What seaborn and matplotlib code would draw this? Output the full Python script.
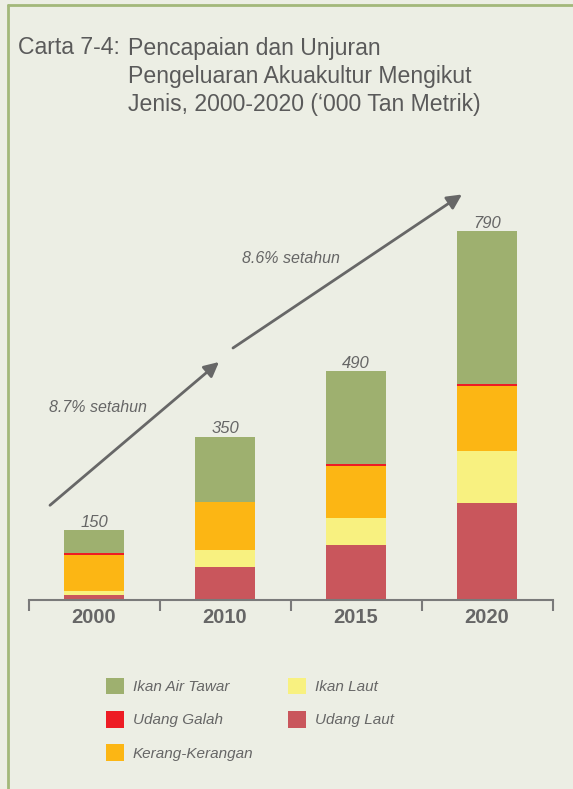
import numpy as np
import pandas as pd
import matplotlib
matplotlib.use("Agg")
import matplotlib.pyplot as plt
from matplotlib.patches import Patch
from matplotlib.lines import Line2D
import seaborn as sns

# ---- data ----
years = ["2000", "2010", "2015", "2020"]
udang_laut = [11, 70, 118, 208]
ikan_laut = [9, 38, 58, 111]
kerang = [77, 102, 111, 139]
udang_galah = [4, 0, 5, 5]
ikan_air_tawar = [49, 140, 198, 327]
totals = [150, 350, 490, 790]
growth_labels = ["8.7% setahun", "8.6% setahun"]

series_names = ["Udang Laut", "Ikan Laut", "Kerang-Kerangan", "Udang Galah", "Ikan Air Tawar"]
series_vals = [udang_laut, ikan_laut, kerang, udang_galah, ikan_air_tawar]
colors = {
    "Ikan Air Tawar": "#9EB06F",
    "Udang Galah": "#ED1C24",
    "Kerang-Kerangan": "#FCB614",
    "Ikan Laut": "#F8F180",
    "Udang Laut": "#C9565C",
}

BG = "#ECEEE4"
GREY = "#666666"

sns.set_theme(style="white")
plt.rcParams["font.family"] = ["Liberation Sans", "DejaVu Sans"]
FONT = ["Liberation Sans", "DejaVu Sans"]

fig = plt.figure(figsize=(5.73, 7.89), dpi=100, facecolor=BG)
ax = fig.add_axes([28.5 / 573, 1 - 600 / 789, 524 / 573, 420 / 789])
ax.set_facecolor(BG)

df = pd.DataFrame({"year": years})
cum = np.cumsum(np.array(series_vals), axis=0)
# draw from top layer down so each shorter cumulative bar overlays
for i in range(len(series_names) - 1, -1, -1):
    df["v"] = cum[i]
    sns.barplot(data=df, x="year", y="v", color=colors[series_names[i]],
                saturation=1, width=0.46, ax=ax, linewidth=0, edgecolor="none")

ax.set_ylim(0, 900)
ax.set_xlim(-0.5, 3.5)
ax.set_xlabel("")
ax.set_ylabel("")
ax.set_yticks([])
for s in ["left", "right", "top"]:
    ax.spines[s].set_visible(False)
ax.spines["bottom"].set_color("#7A7A7A")
ax.spines["bottom"].set_linewidth(1.5)
ax.set_xticks(range(len(years)))
ax.set_xticklabels(years, fontsize=14.5, fontweight="bold", color=GREY, family=FONT)
ax.tick_params(axis="x", which="major", bottom=True, length=0, pad=6)
ax.set_xticks(np.arange(-0.5, len(years), 1.0), minor=True)
ax.tick_params(axis="x", which="minor", bottom=True, length=8, width=1.5,
               color="#7A7A7A", direction="out")

# value labels
for i, t in enumerate(totals):
    ax.text(i, t + 7, str(t), ha="center", va="baseline", fontsize=12,
            style="italic", color=GREY, family=FONT)

# growth arrows
arrow_kw = dict(arrowstyle="-|>", color="#676767", lw=2, mutation_scale=22, shrinkA=0, shrinkB=0)
ax.annotate("", xy=(0.954, 510), xytext=(-0.336, 203), arrowprops=arrow_kw, annotation_clip=False)
ax.annotate("", xy=(2.809, 869), xytext=(1.061, 540), arrowprops=arrow_kw, annotation_clip=False)
ax.text(0.03, 413, growth_labels[0], ha="center", va="center", fontsize=11.5,
        style="italic", color=GREY, family=FONT)
ax.text(1.504, 732, growth_labels[1], ha="center", va="center", fontsize=11.5,
        style="italic", color=GREY, family=FONT)

# title
TC = "#5A5A5A"
fig.text(18 / 573, 1 - 48 / 789, "Carta 7-4:", ha="left", va="center", fontsize=16.6, color=TC)
for y, line in zip([48, 77, 104], ["Pencapaian dan Unjuran",
                                    "Pengeluaran Akuakultur Mengikut",
                                    "Jenis, 2000-2020 (\u2018000 Tan Metrik)"]):
    fig.text(128 / 573, 1 - y / 789, line, ha="left", va="center", fontsize=16.6, color=TC)

# legend
order = ["Ikan Air Tawar", "Udang Galah", "Kerang-Kerangan", "Ikan Laut", "Udang Laut"]
handles = [Patch(facecolor=colors[n], edgecolor="none", label=n) for n in order]
leg = fig.legend(handles=handles, loc="upper left", bbox_to_anchor=(98 / 573, 1 - 670 / 789),
                 ncol=2, frameon=False, borderpad=0, handlelength=1.18, handleheight=1.31,
                 handletextpad=0.59, columnspacing=2.3, labelspacing=1.08,
                 prop={"family": FONT, "style": "italic", "size": 11})
for t in leg.get_texts():
    t.set_color(GREY)

# frame lines (left and top)
BORDER = "#A3B87A"
fig.add_artist(Line2D([8 / 573, 8 / 573], [0, 1 - 5 / 789], transform=fig.transFigure,
                      color=BORDER, lw=2))
fig.add_artist(Line2D([8 / 573, 1], [1 - 5 / 789, 1 - 5 / 789], transform=fig.transFigure,
                      color=BORDER, lw=2))

fig.savefig("out.png", dpi=100, facecolor=BG)
